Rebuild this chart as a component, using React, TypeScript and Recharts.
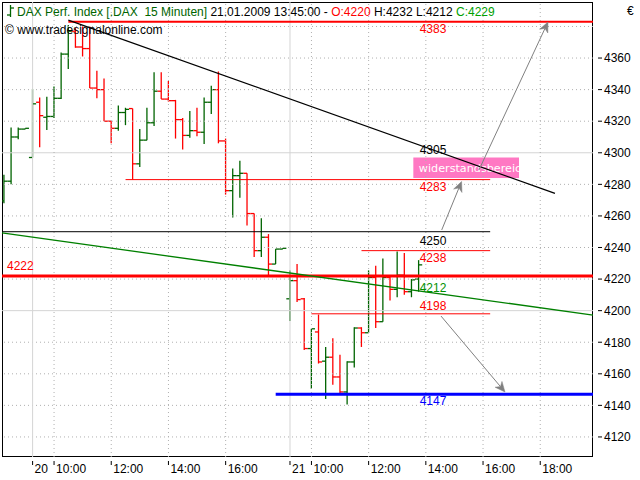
import React from 'react';
import { ComposedChart, Bar, XAxis, YAxis, ReferenceLine, ReferenceArea, ReferenceDot } from 'recharts';

const FONT = '"Liberation Sans", Arial, sans-serif';
const ZONE_FONT = '"DejaVu Sans", Verdana, sans-serif';
const GREEN = '#006400';
const RED = '#ff0000';
const BLUE = '#0000ff';

// ---- categories (15-minute bars) ----
const times = [
  '19.01. 17:15', '19.01. 17:30', '19.01. 17:45', '19.01. 18:00',
  '20.01. 09:15', '20.01. 09:30', '20.01. 09:45', '20.01. 10:00', '20.01. 10:15', '20.01. 10:30',
  '20.01. 10:45', '20.01. 11:00', '20.01. 11:15', '20.01. 11:30', '20.01. 11:45', '20.01. 12:00',
  '20.01. 12:15', '20.01. 12:30', '20.01. 12:45', '20.01. 13:00', '20.01. 13:15', '20.01. 13:30',
  '20.01. 13:45', '20.01. 14:00', '20.01. 14:15', '20.01. 14:30', '20.01. 14:45', '20.01. 15:00',
  '20.01. 15:15', '20.01. 15:30', '20.01. 15:45', '20.01. 16:00', '20.01. 16:15', '20.01. 16:30',
  '20.01. 16:45', '20.01. 17:00', '20.01. 17:15', '20.01. 17:30', '20.01. 17:45', '20.01. 18:00',
  '21.01. 09:15', '21.01. 09:30', '21.01. 09:45', '21.01. 10:00', '21.01. 10:15', '21.01. 10:30',
  '21.01. 10:45', '21.01. 11:00', '21.01. 11:15', '21.01. 11:30', '21.01. 11:45', '21.01. 12:00',
  '21.01. 12:15', '21.01. 12:30', '21.01. 12:45', '21.01. 13:00', '21.01. 13:15', '21.01. 13:30',
  '21.01. 13:45',
];

// ---- series values ----
const opens = [
  4269.5, 4282, 4310, 4315,
  4297, 4332, 4322.5, 4323, 4334.5, 4362.5, 4377, 4367, 4366, 4341, 4340, 4320, 4315.5, 4325.5,
  4328, 4293, 4308, 4319, 4339, 4334, 4333, 4321, 4311, 4314, 4313, 4332, 4340, 4307.5, 4276,
  4285.5, 4287, 4261.5, 4238, 4246.5, 4229.5, 4239,
  4207.5, 4219, 4207.5, 4176, 4186.5, 4168, 4170.5, 4158, 4148.5, 4167.5, 4189, 4186, 4221, 4193,
  4221, 4213.5, 4222.5, 4212, 4220,
];
const highs = [
  4286, 4316, 4316, 4315.5,
  4340.5, 4335, 4335.5, 4342, 4363.5, 4381, 4379, 4380, 4380, 4352, 4347, 4320, 4330, 4328.5,
  4328, 4315, 4328.5, 4351, 4351, 4345.5, 4333.5, 4322, 4326.5, 4328.5, 4335, 4342.5, 4351.5, 4309,
  4290, 4295, 4287, 4261.5, 4258.5, 4248.5, 4239, 4239.5,
  4225.5, 4229.5, 4208, 4188.5, 4197.5, 4177, 4182.5, 4172, 4168, 4189.5, 4189.5, 4225.5, 4228.5,
  4233, 4222, 4237.5, 4236.5, 4220, 4232,
];
const lows = [
  4268, 4280, 4308.5, 4315,
  4297, 4303.5, 4314.5, 4322, 4334, 4353, 4366.5, 4361, 4341, 4334.5, 4320, 4306, 4314, 4317.5,
  4283, 4291, 4308, 4317, 4334, 4332.5, 4309, 4302, 4309.5, 4310.5, 4305.5, 4324.5, 4306, 4273.5,
  4259, 4271.5, 4254, 4234, 4234, 4222.5, 4229.5, 4239,
  4193.5, 4205.5, 4175, 4150.5, 4166.5, 4144, 4153, 4147.5, 4140.5, 4164, 4177, 4186, 4189, 4193,
  4206.5, 4208.5, 4210, 4208.5, 4212,
];
const closes = [
  4282, 4310, 4315, 4315.5,
  4331, 4323.5, 4323, 4334.5, 4362.5, 4377, 4367, 4366, 4341, 4340, 4320, 4315.5, 4325.5, 4327.5,
  4293, 4308, 4319, 4339, 4334, 4333, 4321, 4311, 4314, 4313, 4332, 4340, 4307.5, 4276, 4285.5,
  4287, 4261.5, 4238, 4246.5, 4229.5, 4239, 4239.5,
  4219, 4207, 4176, 4188.5, 4167.5, 4170.5, 4158, 4148.5, 4167.5, 4189, 4186, 4221, 4193, 4221,
  4213.5, 4222.5, 4212, 4219.5, 4229,
];

// ---- axis ticks ----
const xTickIdx = [4, 7, 15, 23, 31, 40, 43, 51, 59, 67, 75];
const xTickLabels = ['20', '10:00', '12:00', '14:00', '16:00', '21', '10:00', '12:00', '14:00', '16:00', '18:00'];
const daySeparators = [4, 40];
const hourLines = [7, 15, 23, 31, 43, 51, 59, 67, 75];
const yTicks = [4120, 4140, 4160, 4180, 4200, 4220, 4240, 4260, 4280, 4300, 4320, 4340, 4360];
const yGridMinor = [4120, 4140, 4160, 4180, 4220, 4240, 4260, 4280, 4320, 4340, 4360, 4380];
const yGridMajor = [4200, 4300];

const X_MIN = -0.28;
const X_MAX = 82.38;
const Y_MIN = 4107.3;
const Y_MAX = 4395.5;

// ---- drawn levels ----
const levelValues = [4383, 4250, 4283, 4238, 4222, 4198, 4147];
const levelStart = [9, X_MIN, 17, 50, X_MIN, 43, 38];
const levelEnd = [X_MAX, 68, 68, 68, X_MAX, 68, X_MAX];
const levelColors = [RED, '#000000', RED, RED, RED, RED, BLUE];
const levelWidths = [2, 1, 1, 1, 3, 1, 3];

// ---- level labels ----
const labelTexts = ['4383', '4305', '4283', '4250', '4238', '4222', '4212', '4198', '4147'];
const labelValues = [4383, 4305, 4283, 4250, 4238, 4222, 4212, 4198, 4147];
const labelIdx = [60, 60, 60, 60, 60, 0, 60, 60, 60];
const labelColors = [RED, '#000000', RED, '#000000', RED, RED, '#009000', RED, BLUE];
const labelDy = [7, 5, 7.5, 8.5, 7.5, -10, -4, -8.5, 6.5];

// ---- trend lines & arrows ----
const trendBlack = [{ x: 9, y: 4384 }, { x: 77.06, y: 4274.3 }];
const trendGreen = [{ x: X_MIN, y: 4249.2 }, { x: X_MAX, y: 4197.2 }];
const arrowFrom = [{ x: 66.43, y: 4289.1 }, { x: 61.22, y: 4251.1 }, { x: 61.12, y: 4196.6 }];
const arrowTo = [{ x: 76.08, y: 4382.8 }, { x: 64.0, y: 4281.8 }, { x: 70.07, y: 4148.5 }];

const zoneX = [57.25, 72.03];
const zoneY = [4284, 4297];
const zoneText = 'widerstandsbereich';

const data = times.map((t, i) => ({ i, t, o: opens[i], h: highs[i], l: lows[i], c: closes[i] }));

const OhlcShape = (props: any) => {
  const { x, y, width, height, payload } = props;
  const { o, h, l, c } = payload;
  const top = Math.min(y, y + height);
  const hh = Math.abs(height);
  const k = h - l > 0 ? hh / (h - l) : 0;
  const cx = x + width / 2;
  const yo = top + (h - o) * k;
  const yc = top + (h - c) * k;
  const color = c >= o ? GREEN : RED;
  return (
    <g stroke={color} strokeWidth={1.3} fill="none">
      <line x1={cx} x2={cx} y1={top} y2={top + Math.max(hh, 0.8)} />
      <line x1={cx - 3.6} x2={cx} y1={yo} y2={yo} />
      <line x1={cx} x2={cx + 3.6} y1={yc} y2={yc} />
    </g>
  );
};

const ArrowShape = (p: any) => {
  const { x1, y1, x2, y2 } = p;
  const ang = Math.atan2(y2 - y1, x2 - x1);
  const L = 10;
  const W = 4.5;
  const cs = Math.cos(ang);
  const sn = Math.sin(ang);
  const bx = x2 - L * cs;
  const by = y2 - L * sn;
  const nx = x2 - (L - 3) * cs;
  const ny = y2 - (L - 3) * sn;
  const px = -sn * W;
  const py = cs * W;
  return (
    <g>
      <line x1={x1} y1={y1} x2={nx} y2={ny} stroke="#808080" strokeWidth={1} />
      <polygon
        points={`${x2},${y2} ${bx + px},${by + py} ${nx},${ny} ${bx - px},${by - py}`}
        fill="#808080"
        stroke="#808080"
        strokeWidth={0.5}
      />
    </g>
  );
};

const XTick = (props: any) => {
  const { x, y, payload } = props;
  const label = xTickLabels[xTickIdx.indexOf(payload.value)];
  return (
    <g>
      <line x1={x} x2={x} y1={y + 4} y2={y + 8} stroke="#000" />
      <text x={x + 2} y={y + 16} fontSize={12} fontFamily={FONT} fill="#000">{label}</text>
    </g>
  );
};

const YTick = (props: any) => {
  const { x, y, payload } = props;
  return (
    <g>
      <line x1={x + 5} x2={x + 9} y1={y} y2={y} stroke="#000" />
      <text x={x + 11} y={y + 4.3} fontSize={12} fontFamily={FONT} fill="#000">{payload.value}</text>
    </g>
  );
};

const ZoneShape = (p: any) => {
  const { x, y, width, height } = p;
  return (
    <g>
      <defs>
        <clipPath id="zoneClip">
          <rect x={x} y={y} width={width} height={height} />
        </clipPath>
      </defs>
      <rect x={x} y={y} width={width} height={height} fill="#ff78c3" />
      <text
        x={x + 5.5}
        y={y + height / 2 + 4.3}
        fontSize={11.2}
        fontFamily={ZONE_FONT}
        fill="#ffffff"
        clipPath="url(#zoneClip)"
      >
        {zoneText}
      </text>
    </g>
  );
};

const BorderShape = (p: any) => {
  const { x, y, width, height } = p;
  const x0 = Math.round(x) + 0.5;
  const y0 = Math.round(y) + 0.5;
  const x1 = Math.round(x + width) - 0.5;
  const y1 = Math.round(y + height) - 0.5;
  return <rect x={x0} y={y0} width={x1 - x0} height={y1 - y0} fill="none" stroke="#000" strokeWidth={1} />;
};

export default function App() {
  const last = data.length - 1;
  return (
    <div style={{ position: 'absolute', left: 0, top: 0, width: 640, height: 480, background: '#fff' }}>
      <ComposedChart
        width={640}
        height={480}
        data={data}
        margin={{ top: 2, right: 0, left: 2, bottom: 0 }}
      >
        <XAxis
          type="number"
          dataKey="i"
          domain={[X_MIN, X_MAX]}
          allowDataOverflow
          ticks={xTickIdx}
          interval={0}
          tickLine={false}
          axisLine={false}
          tickSize={0}
          tickMargin={0}
          height={23}
          tick={<XTick />}
        />
        <YAxis
          orientation="right"
          type="number"
          domain={[Y_MIN, Y_MAX]}
          allowDataOverflow
          ticks={yTicks}
          interval={0}
          width={47}
          tickLine={false}
          axisLine={false}
          tickSize={0}
          tickMargin={0}
          tick={<YTick />}
        />
        {yGridMinor.map((v) => (
          <ReferenceLine key={'gm' + v} y={v} stroke="#b0b0b0" strokeDasharray="1 3" />
        ))}
        {yGridMajor.map((v) => (
          <ReferenceLine key={'gM' + v} y={v} stroke="#d4d4d4" />
        ))}
        {hourLines.map((v) => (
          <ReferenceLine key={'hl' + v} x={v} stroke="#b0b0b0" strokeDasharray="1 3" />
        ))}
        {daySeparators.map((v) => (
          <ReferenceLine key={'ds' + v} x={v} stroke="#d4d4d4" />
        ))}
        <ReferenceArea x1={zoneX[0]} x2={zoneX[1]} y1={zoneY[0]} y2={zoneY[1]} shape={<ZoneShape />} />
        {levelValues.map((v, k) => (
          <ReferenceLine
            key={'lv' + k}
            segment={[{ x: levelStart[k], y: v }, { x: levelEnd[k], y: v }]}
            stroke={levelColors[k]}
            strokeWidth={levelWidths[k]}
          />
        ))}
        <ReferenceLine segment={trendGreen} stroke="#008000" strokeWidth={1.3} />
        <ReferenceLine segment={trendBlack} stroke="#000000" strokeWidth={1.2} />
        {arrowFrom.map((f, k) => (
          <ReferenceLine key={'ar' + k} segment={[f, arrowTo[k]]} shape={<ArrowShape />} />
        ))}
        <Bar dataKey={(d: any) => [d.l, d.h]} barSize={7} isAnimationActive={false} shape={<OhlcShape />} />
        {labelTexts.map((t, k) => (
          <ReferenceDot
            key={'lb' + k}
            x={labelIdx[k]}
            y={labelValues[k]}
            r={1}
            ifOverflow="visible"
            shape={(p: any) => (
              <text
                x={labelIdx[k] === 0 ? p.cx + 3 : p.cx}
                y={p.cy + labelDy[k] + 4.3}
                textAnchor={labelIdx[k] === 0 ? 'start' : 'middle'}
                fontSize={12}
                fontFamily={FONT}
                fill={labelColors[k]}
              >
                {t}
              </text>
            )}
          />
        ))}
        <ReferenceArea x1={X_MIN} x2={X_MAX} y1={Y_MIN} y2={Y_MAX} shape={<BorderShape />} />
      </ComposedChart>
      <svg width={640} height={480} style={{ position: 'absolute', left: 0, top: 0, pointerEvents: 'none' }}>
        <g stroke={GREEN} strokeWidth={1.3}>
          <line x1={10.5} x2={10.5} y1={5} y2={17} />
          <line x1={7} x2={10.5} y1={15} y2={15} />
          <line x1={10.5} x2={14} y1={8} y2={8} />
        </g>
        <text x={17} y={15.5} fontSize={12} fontFamily={FONT} style={{ whiteSpace: 'pre' }}>
          <tspan fill={GREEN}>DAX Perf. Index [.DAX  15 Minuten]</tspan>
          <tspan fill="#000"> 21.01.2009 13:45:00 - </tspan>
          <tspan fill={RED}>{`O:${opens[last]}`}</tspan>
          <tspan fill="#000">{` H:${highs[last]} L:${lows[last]} `}</tspan>
          <tspan fill="#00a000">{`C:${closes[last]}`}</tspan>
        </text>
        <text x={5} y={33.5} fontSize={12} fontFamily={FONT} fill="#000">© www.tradesignalonline.com</text>
        <text x={627} y={14.5} fontSize={12} fontFamily={FONT} fill="#000">€</text>
      </svg>
    </div>
  );
}
